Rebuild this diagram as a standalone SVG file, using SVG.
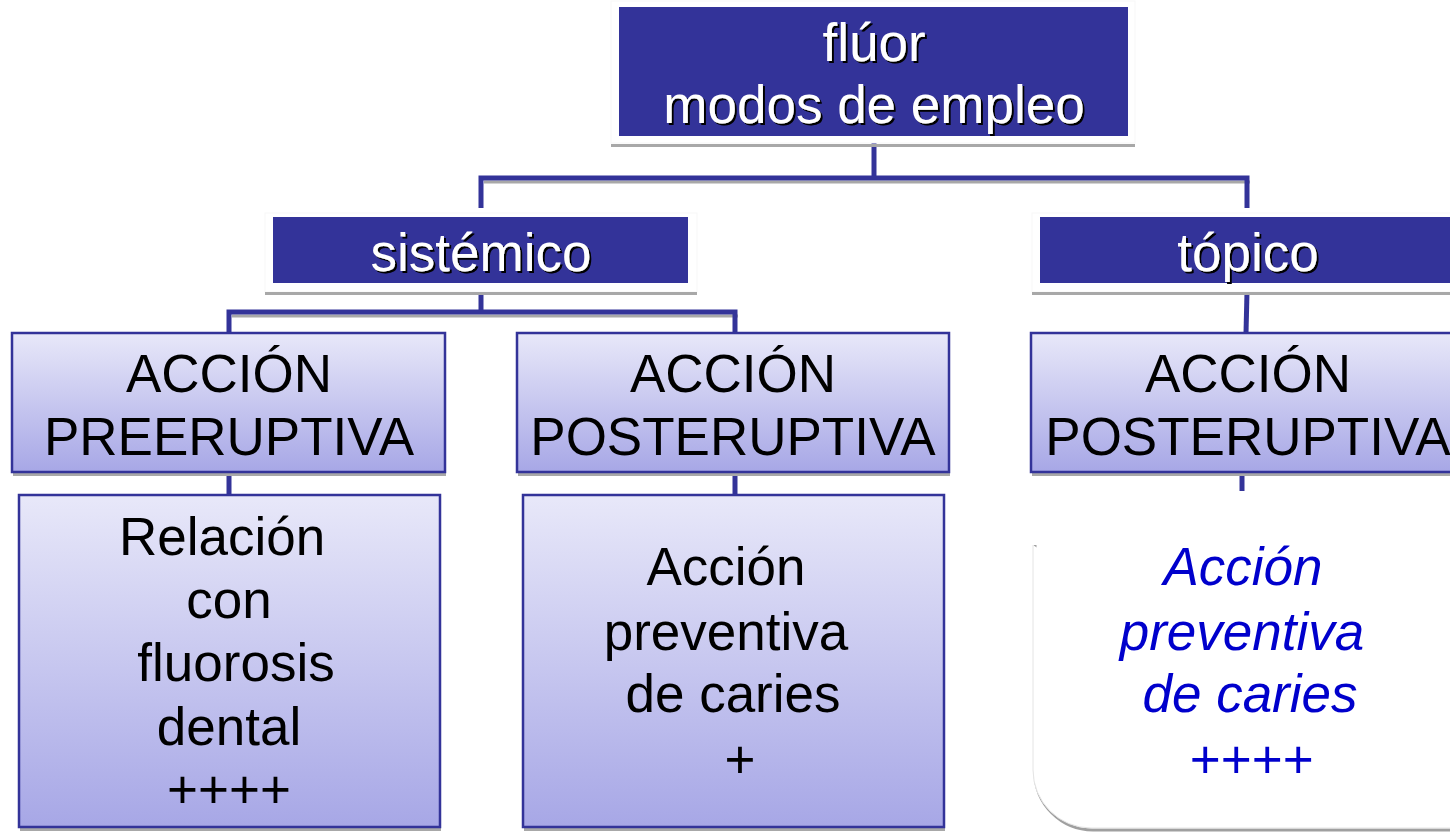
<svg xmlns="http://www.w3.org/2000/svg" width="1450" height="833" viewBox="0 0 1450 833">
<defs>
<linearGradient id="lg" x1="0" y1="0" x2="0" y2="1">
<stop offset="0" stop-color="#E8E8F9"/>
<stop offset="1" stop-color="#A7A7E6"/>
</linearGradient>
<filter id="ts" x="-10%" y="-10%" width="130%" height="140%">
<feDropShadow dx="2" dy="2" stdDeviation="0.3" flood-color="#000" flood-opacity="1"/>
</filter>
</defs>
<style>
text{font-family:"Liberation Sans",Arial,sans-serif;font-size:53px;text-anchor:middle}
.dark{fill:#333399}
.frame{fill:#fff;stroke:#f7f7f7;stroke-width:1}
.sh{fill:#a8a8a8}
.lt{fill:url(#lg);stroke:#333399;stroke-width:2.5}
.wt{fill:#fff;filter:url(#ts)}
.bk{fill:#000}
.bl{fill:#0000CC;font-style:italic}
.con{stroke:#333399;stroke-width:5;fill:none}
.csh{stroke:#a8a8a8;stroke-width:3;fill:none}
</style>
<rect width="1450" height="833" fill="#fff"/>
<g id="n-caries2">
<path d="M1035,545 L1035,772 A58,58 0 0 0 1093,830 L1460,830" fill="none" stroke="#a0a0a0" stroke-width="3"/>
<path d="M1033,545 L1033,770 A58,58 0 0 0 1091,828 L1460,828" fill="#fff" stroke="#e4e4e4" stroke-width="1"/>
<text class="bl" x="1243" y="585">Acción</text>
<text class="bl" x="1242" y="650">preventiva</text>
<text class="bl" x="1250" y="712">de caries</text>
<text class="bl" x="1251" y="778">++++</text>
</g>
<g id="connectors">
<line class="csh" x1="484" y1="182" x2="1250" y2="182"/>
<line class="csh" x1="232" y1="316" x2="738" y2="316"/>
<polyline class="con" points="874,143 874,178"/>
<polyline class="con" points="481,208 481,178 1247,178 1247,208"/>
<polyline class="con" points="481,292 481,312"/>
<polyline class="con" points="229,333 229,312 735,312 735,333"/>
<polyline class="con" points="1247,292 1246,333"/>
<polyline class="con" points="229,472 229,495"/>
<polyline class="con" points="735,472 735,495"/>
<polyline class="con" points="1242,472 1242,491"/>
</g>
<g id="n-fluor">
<rect class="frame" x="611" y="1" width="524" height="142"/>
<rect class="sh" x="611" y="144" width="524" height="3"/>
<rect class="dark" x="619" y="7" width="509" height="129"/>
<text class="wt" x="874" y="61">flúor</text>
<text class="wt" x="874" y="123">modos de empleo</text>
</g>
<g id="n-sistemico">
<rect class="frame" x="265" y="213" width="432" height="79"/>
<rect class="sh" x="265" y="292" width="432" height="3"/>
<rect class="dark" x="273" y="217" width="415" height="66"/>
<text class="wt" x="481" y="271">sistémico</text>
</g>
<g id="n-topico">
<rect class="frame" x="1032" y="213" width="430" height="79"/>
<rect class="sh" x="1032" y="292" width="430" height="3"/>
<rect class="dark" x="1040" y="217" width="420" height="66"/>
<text class="wt" x="1248" y="271">tópico</text>
</g>
<g id="n-pre">
<rect class="sh" x="13" y="473" width="433" height="3"/>
<rect class="lt" x="12" y="333" width="433" height="139"/>
<text class="bk" x="229" y="392">ACCIÓN</text>
<text class="bk" x="229" y="455">PREERUPTIVA</text>
</g>
<g id="n-post1">
<rect class="sh" x="518" y="473" width="432" height="3"/>
<rect class="lt" x="517" y="333" width="432" height="139"/>
<text class="bk" x="733" y="392">ACCIÓN</text>
<text class="bk" x="733" y="455">POSTERUPTIVA</text>
</g>
<g id="n-post2">
<rect class="sh" x="1032" y="473" width="430" height="3"/>
<rect class="lt" x="1031" y="333" width="432" height="139"/>
<text class="bk" x="1248" y="392">ACCIÓN</text>
<text class="bk" x="1248" y="455">POSTERUPTIVA</text>
</g>
<g id="n-fluorosis">
<rect class="sh" x="20" y="828" width="421" height="3"/>
<rect class="lt" x="19" y="495" width="421" height="332"/>
<text class="bk" x="222" y="555">Relación</text>
<text class="bk" x="229" y="618">con</text>
<text class="bk" x="236" y="681">fluorosis</text>
<text class="bk" x="229" y="745">dental</text>
<text class="bk" x="229" y="808">++++</text>
</g>
<g id="n-caries1">
<rect class="sh" x="524" y="828" width="421" height="3"/>
<rect class="lt" x="523" y="495" width="421" height="332"/>
<text class="bk" x="726" y="585">Acción</text>
<text class="bk" x="726" y="650">preventiva</text>
<text class="bk" x="733" y="712">de caries</text>
<text class="bk" x="740" y="778">+</text>
</g>
</svg>
